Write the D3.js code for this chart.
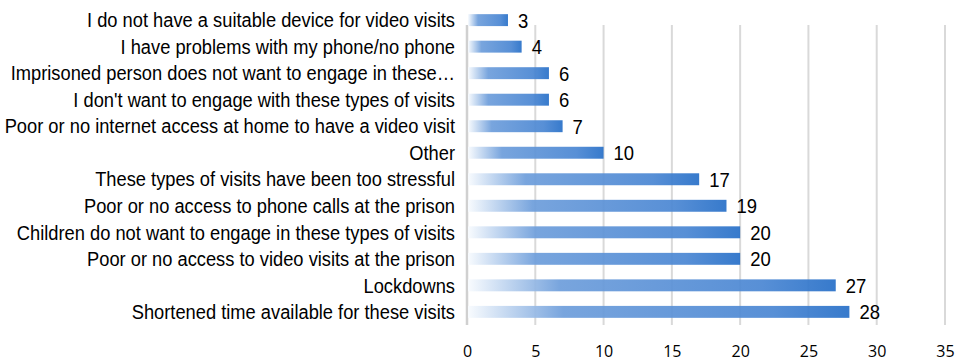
<!DOCTYPE html>
<html><head><meta charset="utf-8">
<script src="https://cdn.jsdelivr.net/npm/d3@7"></script>
<style>body{margin:0;background:#fff}svg{display:block}</style>
</head><body>
<svg id="c" width="956" height="361"></svg>
<script>
const categories = [
  "I do not have a suitable device for video visits",
  "I have problems with my phone/no phone",
  "Imprisoned person does not want to engage in these…",
  "I don't want to engage with these types of visits",
  "Poor or no internet access at home to have a video visit",
  "Other",
  "These types of visits have been too stressful",
  "Poor or no access to phone calls at the prison",
  "Children do not want to engage in these types of visits",
  "Poor or no access to video visits at the prison",
  "Lockdowns",
  "Shortened time available for these visits"
];
const values = [3, 4, 6, 6, 7, 10, 17, 19, 20, 20, 27, 28];
const ticks = [0, 5, 10, 15, 20, 25, 30, 35];

const svg = d3.select("#c");
const font = "'Liberation Sans', Arial, sans-serif";
const x = d3.scaleLinear().domain([0, 35]).range([467, 945]);
const y = d3.scaleBand().domain(categories).range([7, 325]).paddingInner(0.55).paddingOuter(0.27);

const defs = svg.append("defs");
const g = defs.append("linearGradient").attr("id", "bg").attr("x1", 0).attr("x2", 1).attr("y1", 0).attr("y2", 0);
g.append("stop").attr("offset", "0%").attr("stop-color", "#f8fbfe");
g.append("stop").attr("offset", "25%").attr("stop-color", "#6e9edb");
g.append("stop").attr("offset", "80%").attr("stop-color", "#4b87d3");
g.append("stop").attr("offset", "100%").attr("stop-color", "#2870c8");

// gridlines
svg.append("g").selectAll("line").data(ticks).join("line")
  .attr("x1", d => x(d)).attr("x2", d => x(d))
  .attr("y1", 25).attr("y2", 325)
  .attr("stroke", d => d === 0 ? "#d0d0d0" : "#d9d9d9")
  .attr("stroke-width", d => d === 0 ? 2.5 : 2);

// tick labels
const xAxis = d3.axisBottom(x).tickValues(ticks).tickSize(0).tickPadding(0);
const ax = svg.append("g").attr("transform", "translate(0,351)").call(xAxis);
ax.select(".domain").remove();
ax.selectAll("text").attr("font-family", "'Open Sans', sans-serif").attr("font-size", 16).attr("fill", "#000").attr("dy", "0.36em");

// bars
svg.append("g").selectAll("rect").data(categories).join("rect")
  .attr("x", x(0) + 1)
  .attr("y", d => y(d))
  .attr("width", (d, i) => x(values[i]) - x(0) - 1)
  .attr("height", y.bandwidth())
  .attr("fill", "url(#bg)")
  .attr("fill-opacity", 0.93);

// value labels
svg.append("g").selectAll("text").data(categories).join("text")
  .attr("transform", (d, i) => `translate(${x(values[i]) + 10},${y(d) + y.bandwidth() / 2}) scale(0.88,1)`)
  .attr("dy", "0.36em")
  .attr("font-family", font).attr("font-size", 21).attr("fill", "#000")
  .text((d, i) => values[i]);

// category labels
svg.append("g").selectAll("text").data(categories).join("text")
  .attr("transform", d => `translate(455,${y(d) + y.bandwidth() / 2}) scale(0.915,1)`)
  .attr("dy", "0.36em")
  .attr("text-anchor", "end")
  .attr("font-family", font).attr("font-size", 20).attr("fill", "#000")
  .text(d => d);
</script>
</body></html>
